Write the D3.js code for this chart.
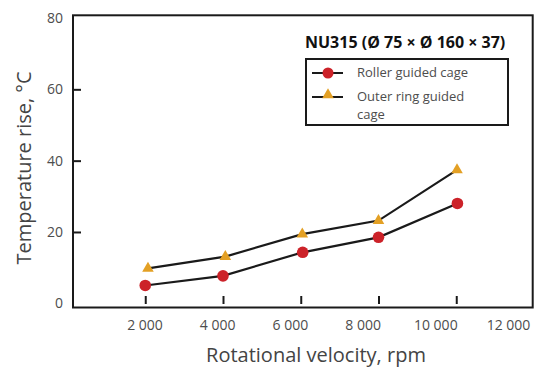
<!DOCTYPE html>
<html>
<head>
<meta charset="utf-8">
<script src="https://d3js.org/d3.v7.min.js"></script>
<style>
  body { margin: 0; background: #fff; }
  svg text { font-family: "Open Sans", "DejaVu Sans", sans-serif; }
  .tick text { fill: #4d4d4d; font-size: 14px; }
  .domain { display: none; }
</style>
</head>
<body>
<svg id="chart" width="535" height="369"></svg>
<script>
// values
var chartTitle = "NU315 (Ø 75 × Ø 160 × 37)";
var seriesNames = ["Roller guided cage", "Outer ring guided cage"];
var rollerRpm = [2000, 4000, 6050, 8000, 10030];
var rollerRise = [5.0, 7.7, 14.3, 18.5, 28.0];
var outerRpm = [2070, 4060, 6040, 8000, 10020];
var outerRise = [9.8, 13.1, 19.4, 23.2, 37.4];
var xTicks = [2000, 4000, 6000, 8000, 10000, 12000];
var yTicks = [0, 20, 40, 60, 80];

var red = "#cc2229", orange = "#e3a024", ink = "#1a1a1a";

var svg = d3.select("#chart");

// plot frame
var fLeft = 73, fTop = 15.3, fRight = 532.7, fBottom = 307.5;

var x = d3.scaleLinear().domain([0, 12000]).range([67.5, 534]);
var y = d3.scaleLinear().domain([0, 80]).range([303.3, 18]);
// tick labels sit a little off the tick positions in the original
var xLab = d3.scaleLinear().domain([2000, 12000]).range([144.5, 508]);

var fmt = d3.formatLocale({ decimal: ".", thousands: " ", grouping: [3], currency: ["", ""] }).format(",");

// y axis, ticks pointing inward
var gy = svg.append("g")
  .attr("transform", "translate(" + fLeft + ",0)")
  .call(d3.axisLeft(y).tickValues(yTicks).tickSize(-8).tickPadding(10));
gy.selectAll(".tick line").attr("stroke", ink).attr("stroke-width", 2)
  .filter(function(d) { return d === 0 || d === 80; }).remove();

// x axis labels
svg.append("g")
  .attr("transform", "translate(0," + fBottom + ")")
  .call(d3.axisBottom(xLab).tickValues(xTicks).tickFormat(fmt).tickSize(0).tickPadding(13));

// x ticks, short marks standing off the baseline
svg.append("g")
  .attr("transform", "translate(0," + fBottom + ")")
  .call(d3.axisBottom(x).tickValues(xTicks.slice(0, 5)).tickFormat("").tickSizeOuter(0))
  .selectAll(".tick line")
  .attr("y1", -3.5).attr("y2", -11.5)
  .attr("stroke", ink).attr("stroke-width", 2);

// frame
svg.append("rect")
  .attr("x", fLeft).attr("y", fTop)
  .attr("width", fRight - fLeft).attr("height", fBottom - fTop)
  .attr("fill", "none").attr("stroke", ink).attr("stroke-width", 2);

// axis titles
svg.append("text")
  .attr("x", 316).attr("y", 362)
  .attr("text-anchor", "middle")
  .attr("font-size", 20).attr("fill", "#444")
  .text("Rotational velocity, rpm");

svg.append("text")
  .attr("transform", "translate(31,168) rotate(-90)")
  .attr("text-anchor", "middle")
  .attr("font-size", 20).attr("fill", "#444")
  .text("Temperature rise, °C");

var line = d3.line()
  .x(function(d) { return x(d[0]); })
  .y(function(d) { return y(d[1]); });

var roller = d3.zip(rollerRpm, rollerRise);
var outer = d3.zip(outerRpm, outerRise);

svg.append("path").datum(roller).attr("d", line)
  .attr("fill", "none").attr("stroke", ink).attr("stroke-width", 2.2);
svg.append("path").datum(outer).attr("d", line)
  .attr("fill", "none").attr("stroke", ink).attr("stroke-width", 2.2);

var tri = d3.symbol().type(d3.symbolTriangle).size(58);

svg.selectAll(".dot").data(roller).enter().append("circle")
  .attr("class", "dot")
  .attr("cx", function(d) { return x(d[0]); })
  .attr("cy", function(d) { return y(d[1]); })
  .attr("r", 5.8)
  .attr("fill", red);

svg.selectAll(".tri").data(outer).enter().append("path")
  .attr("class", "tri")
  .attr("d", tri)
  .attr("transform", function(d) { return "translate(" + x(d[0]) + "," + y(d[1]) + ")"; })
  .attr("fill", orange);

// title + legend
svg.append("text")
  .attr("x", 305).attr("y", 48)
  .attr("font-size", 16).attr("font-weight", "bold").attr("fill", "#111")
  .text(chartTitle);

var lg = svg.append("g");
lg.append("rect")
  .attr("x", 306).attr("y", 59)
  .attr("width", 202).attr("height", 66)
  .attr("fill", "#fff").attr("stroke", ink).attr("stroke-width", 2);

lg.append("line").attr("x1", 312).attr("x2", 343).attr("y1", 73).attr("y2", 73)
  .attr("stroke", ink).attr("stroke-width", 2);
lg.append("circle").attr("cx", 328).attr("cy", 73).attr("r", 5.5).attr("fill", red);
lg.append("text").attr("x", 357).attr("y", 77)
  .attr("font-size", 13).attr("fill", "#4d4d4d").text(seriesNames[0]);

lg.append("line").attr("x1", 312).attr("x2", 343).attr("y1", 97).attr("y2", 97)
  .attr("stroke", ink).attr("stroke-width", 2);
lg.append("path").attr("d", tri).attr("transform", "translate(328,95)").attr("fill", orange);
var t2 = lg.append("text").attr("x", 357).attr("y", 101)
  .attr("font-size", 13).attr("fill", "#4d4d4d");
t2.append("tspan").text("Outer ring guided");
t2.append("tspan").attr("x", 357).attr("dy", 18).text("cage");
</script>
</body>
</html>
